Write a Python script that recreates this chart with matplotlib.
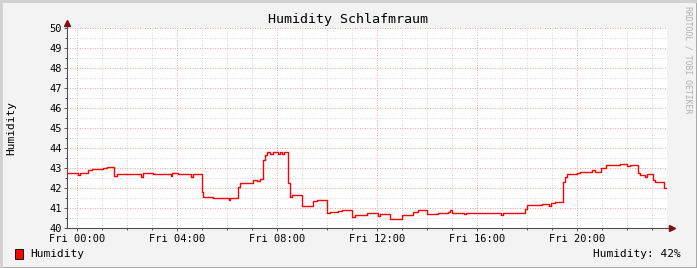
import numpy as np
import matplotlib.pyplot as plt
from matplotlib.ticker import MultipleLocator

# hours relative to Fri 00:00, humidity in %
hours = [-0.40, 0.04, 0.12, 0.44, 0.60, 1.04, 1.20, 1.48, 1.60, 2.56, 2.64, 3.04,
         3.52, 3.76, 3.80, 4.04, 4.56, 4.64, 5.00, 5.04, 5.44, 6.08, 6.12, 6.44,
         6.52, 7.04, 7.20, 7.32, 7.44, 7.52, 7.60, 7.72, 7.84, 8.04, 8.12, 8.20,
         8.28, 8.44, 8.52, 8.60, 9.00, 9.44, 9.60, 10.00, 10.12, 10.44, 10.60,
         11.00, 11.12, 11.60, 12.04, 12.12, 12.52, 13.00, 13.44, 13.64, 14.00,
         14.44, 14.84, 14.92, 15.00, 15.48, 15.56, 15.84, 16.96, 17.04, 17.12,
         17.92, 18.00, 18.60, 18.88, 18.96, 19.12, 19.44, 19.52, 19.60, 20.00,
         20.12, 20.60, 20.72, 20.96, 21.16, 21.72, 22.00, 22.12, 22.44, 22.52,
         22.72, 22.80, 22.96, 23.04, 23.12, 23.48, 23.60]
humidity = [42.73, 42.65, 42.73, 42.90, 42.95, 43.00, 43.03, 42.60, 42.72, 42.55, 42.75, 42.68,
            42.70, 42.60, 42.75, 42.68, 42.55, 42.68, 41.82, 41.57, 41.48, 41.42, 41.48, 42.03,
            42.23, 42.40, 42.35, 42.45, 43.40, 43.65, 43.82, 43.70, 43.82, 43.70, 43.80, 43.72,
            43.80, 42.25, 41.57, 41.65, 41.10, 41.35, 41.40, 40.77, 40.82, 40.87, 40.90,
            40.57, 40.65, 40.73, 40.60, 40.70, 40.45, 40.65, 40.82, 40.90, 40.68,
            40.73, 40.80, 40.90, 40.73, 40.68, 40.77, 40.73, 40.65, 40.73, 40.77,
            40.95, 41.15, 41.20, 41.10, 41.23, 41.32, 42.32, 42.55, 42.68, 42.75,
            42.78, 42.90, 42.82, 43.02, 43.15, 43.18, 43.12, 43.15, 42.75, 42.65,
            42.55, 42.70, 42.68, 42.40, 42.32, 42.02, 42.02]
tick_hours = [0, 4, 8, 12, 16, 20]
tick_labels = ['Fri 00:00', 'Fri 04:00', 'Fri 08:00', 'Fri 12:00', 'Fri 16:00', 'Fri 20:00']

plt.rcParams['font.family'] = 'DejaVu Sans Mono'

fig = plt.figure(figsize=(6.97, 2.68), dpi=100, facecolor='#f3f3f3')
ax = fig.add_axes([67/697, 40/268, 600/697, 200/268])
ax.set_facecolor('white')

ax.plot(hours, humidity, color='#ff0000', lw=1.0, drawstyle='steps-post', zorder=5)

ax.set_xlim(-0.4, 23.6)
ax.set_ylim(40, 50)

ax.xaxis.set_major_locator(MultipleLocator(4))
ax.xaxis.set_minor_locator(MultipleLocator(1))
ax.yaxis.set_major_locator(MultipleLocator(1))
ax.yaxis.set_minor_locator(MultipleLocator(0.5))
ax.set_xticks(tick_hours)
ax.set_xticklabels(tick_labels)

ax.grid(which='minor', color='#c8c8c8', ls=(0, (1, 2)), lw=0.6)
ax.grid(which='major', color='#f08080', ls=(0, (1, 2)), lw=0.6)
ax.set_axisbelow(True)

ax.tick_params(which='both', direction='out', colors='#404040', labelcolor='#000000',
               labelsize=7.5, length=2, width=0.6, pad=2)
ax.tick_params(which='minor', length=1.5)

for s in ['top', 'right']:
    ax.spines[s].set_visible(False)
for s in ['left', 'bottom']:
    ax.spines[s].set_color('#505050')
    ax.spines[s].set_linewidth(0.8)

# axis extensions with arrow heads
ax.plot([0, 0], [1, 1.02], transform=ax.transAxes, color='#505050', lw=0.8, clip_on=False)
ax.plot([0], [1.025], transform=ax.transAxes, marker='^', ms=4.5, color='#801010',
        clip_on=False, zorder=6)
ax.plot([1, 1.008], [0, 0], transform=ax.transAxes, color='#505050', lw=0.8, clip_on=False)
ax.plot([1.009], [0], transform=ax.transAxes, marker='>', ms=4.5, color='#801010',
        clip_on=False, zorder=6)

fig.text(348/697, 1 - 19/268, 'Humidity Schlafmraum', ha='center', va='center', fontsize=9.6)
fig.text(11/697, 1 - 128/268, 'Humidity', rotation=90, ha='center', va='center', fontsize=8)
fig.text(688/697, 1 - 60/268, 'RRDTOOL / TOBI OETIKER', rotation=270, ha='center', va='center',
         fontsize=5.9, color='#b0b0b0')

# legend
fig.patches.append(plt.Rectangle((15/697, 1 - 259/268), 8/697, 10/268, transform=fig.transFigure,
                                 facecolor='#ff0000', edgecolor='black', lw=0.6))
fig.text(30/697, 1 - 254/268, 'Humidity', ha='left', va='center', fontsize=8)
fig.text(681/697, 1 - 254/268, 'Humidity: 42%', ha='right', va='center', fontsize=8)

# frame
fig.add_artist(plt.Line2D([0, 1], [1/268/2, 1/268/2], transform=fig.transFigure, color='#a0a0a0', lw=2))
fig.add_artist(plt.Line2D([1 - 1/697/2, 1 - 1/697/2], [0, 1], transform=fig.transFigure, color='#a0a0a0', lw=2))
fig.add_artist(plt.Line2D([0, 1], [1 - 1/268/2, 1 - 1/268/2], transform=fig.transFigure, color='#d0d0d0', lw=2))
fig.add_artist(plt.Line2D([1/697/2, 1/697/2], [0, 1], transform=fig.transFigure, color='#d0d0d0', lw=2))

fig.savefig('out.png', dpi=100, facecolor=fig.get_facecolor())
